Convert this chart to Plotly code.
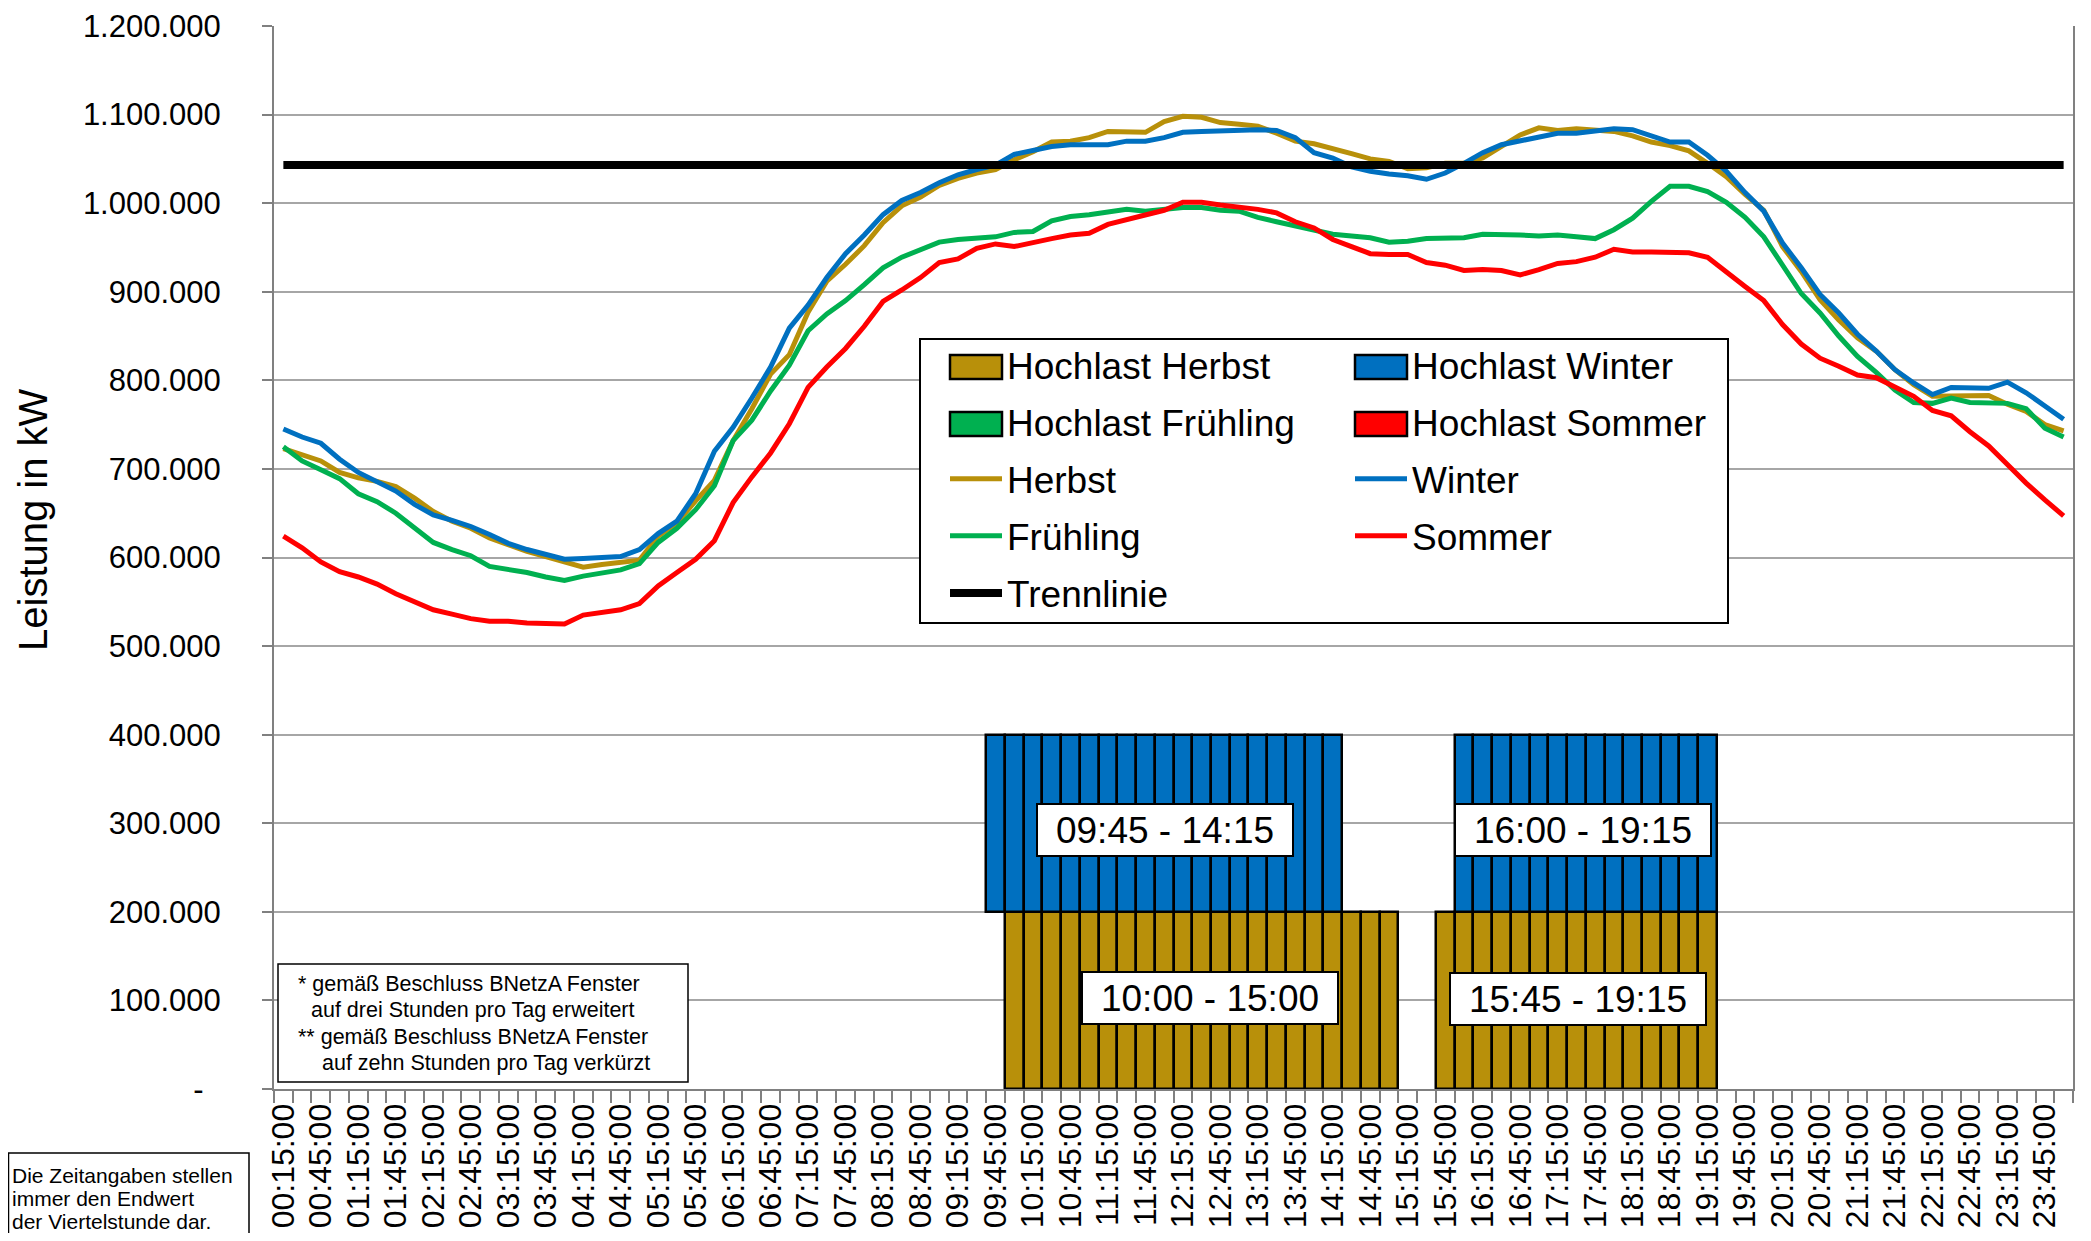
import plotly.graph_objects as go

# ---------------- data ----------------
zeit = [
    "00:15:00", "00:30:00", "00:45:00", "01:00:00",
    "01:15:00", "01:30:00", "01:45:00", "02:00:00",
    "02:15:00", "02:30:00", "02:45:00", "03:00:00",
    "03:15:00", "03:30:00", "03:45:00", "04:00:00",
    "04:15:00", "04:30:00", "04:45:00", "05:00:00",
    "05:15:00", "05:30:00", "05:45:00", "06:00:00",
    "06:15:00", "06:30:00", "06:45:00", "07:00:00",
    "07:15:00", "07:30:00", "07:45:00", "08:00:00",
    "08:15:00", "08:30:00", "08:45:00", "09:00:00",
    "09:15:00", "09:30:00", "09:45:00", "10:00:00",
    "10:15:00", "10:30:00", "10:45:00", "11:00:00",
    "11:15:00", "11:30:00", "11:45:00", "12:00:00",
    "12:15:00", "12:30:00", "12:45:00", "13:00:00",
    "13:15:00", "13:30:00", "13:45:00", "14:00:00",
    "14:15:00", "14:30:00", "14:45:00", "15:00:00",
    "15:15:00", "15:30:00", "15:45:00", "16:00:00",
    "16:15:00", "16:30:00", "16:45:00", "17:00:00",
    "17:15:00", "17:30:00", "17:45:00", "18:00:00",
    "18:15:00", "18:30:00", "18:45:00", "19:00:00",
    "19:15:00", "19:30:00", "19:45:00", "20:00:00",
    "20:15:00", "20:30:00", "20:45:00", "21:00:00",
    "21:15:00", "21:30:00", "21:45:00", "22:00:00",
    "22:15:00", "22:30:00", "22:45:00", "23:00:00",
    "23:15:00", "23:30:00", "23:45:00", "00:00:00",
]
# every second time is written on the axis
zeit_beschriftung = [z if i % 2 == 0 else "" for i, z in enumerate(zeit)]

herbst = [723, 716, 709, 696, 690, 686, 680, 667, 652, 641, 633, 622, 614, 607, 601, 595, 589, 592, 595, 597,
          624, 639, 664, 687, 732, 768, 807, 829, 877, 912, 931, 952, 978, 997, 1007, 1020, 1028, 1034, 1038, 1049,
          1058, 1069, 1070, 1074, 1081, 1081, 1080, 1092, 1098, 1097, 1091, 1089, 1087, 1079, 1070, 1067, 1062, 1056, 1050,
          1047, 1039, 1040, 1045, 1045, 1051, 1064, 1077, 1085, 1082, 1084, 1083, 1081, 1076, 1069, 1065, 1059, 1045, 1030, 1010,
          992, 951, 923, 891, 868, 848, 833, 812, 795, 782, 782, 783, 783, 773, 765, 750, 743]
winter = [745, 736, 729, 711, 696, 686, 675, 660, 648, 642, 635, 626, 616, 609, 604, 598, 599, 600, 601, 609,
          627, 641, 672, 720, 747, 780, 815, 859, 885, 916, 943, 964, 987, 1003, 1012, 1023, 1032, 1038, 1043, 1055,
          1060, 1064, 1066, 1066, 1066, 1070, 1070, 1074, 1080, 1081, 1082, 1083, 1083, 1082, 1074, 1057, 1051, 1041, 1036,
          1033, 1031, 1027, 1034, 1045, 1057, 1066, 1070, 1075, 1079, 1079, 1081, 1084, 1083, 1076, 1069, 1069, 1054, 1036, 1012,
          991, 955, 927, 897, 876, 852, 833, 812, 797, 784, 792, 792, 791, 798, 786, 771, 756]
fruehling = [725, 709, 699, 689, 672, 663, 650, 633, 617, 609, 602, 590, 587, 583, 578, 574, 579, 582, 586, 593,
             617, 633, 654, 681, 732, 755, 788, 817, 856, 875, 890, 908, 927, 939, 947, 956, 959, 960, 962, 967,
             968, 980, 985, 987, 990, 993, 991, 993, 995, 995, 992, 991, 984, 979, 974, 969, 965, 963, 961,
             956, 957, 960, 961, 961, 965, 965, 964, 963, 964, 962, 960, 970, 983, 1002, 1019, 1019, 1013, 1001, 984,
             962, 929, 898, 876, 850, 827, 809, 789, 775, 774, 780, 775, 775, 774, 768, 746, 736]
sommer = [624, 611, 595, 584, 578, 570, 559, 550, 541, 536, 531, 528, 528, 526, 525, 525, 535, 538, 541, 548,
          568, 583, 598, 619, 662, 691, 718, 751, 792, 815, 836, 861, 889, 902, 916, 933, 937, 949, 954, 951,
          956, 960, 964, 966, 976, 981, 986, 992, 1001, 1001, 998, 996, 993, 989, 979, 972, 959, 951, 943,
          942, 942, 933, 930, 924, 925, 924, 919, 925, 932, 934, 939, 948, 945, 945, 945, 944, 939, 922, 906,
          890, 863, 841, 825, 816, 806, 803, 793, 782, 766, 760, 742, 726, 705, 684, 665, 647]
trennlinie_kw = 1043000

# Hochlast-Zeitfenster (Endwerte der Viertelstunden)
hochlast_herbst_fenster = [("10:00:00", "15:00:00"), ("15:45:00", "19:15:00")]
hochlast_winter_fenster = [("09:45:00", "14:15:00"), ("16:00:00", "19:15:00")]
hochlast_fruehling_fenster = []
hochlast_sommer_fenster = []
hochlast_herbst_wert = 200000
hochlast_winter_wert = 200000
hochlast_winter_basis = 200000

fenster_texte = ["09:45 - 14:15", "16:00 - 19:15", "10:00 - 15:00", "15:45 - 19:15"]

y_werte = [0, 100000, 200000, 300000, 400000, 500000, 600000, 700000, 800000, 900000, 1000000, 1100000, 1200000]
y_beschriftung = ["-\u00a0\u00a0", "100.000", "200.000", "300.000", "400.000", "500.000", "600.000",
                  "700.000", "800.000", "900.000", "1.000.000", "1.100.000", "1.200.000"]


def fenster_reihe(fenster, wert):
    out = [None] * len(zeit)
    for a, b in fenster:
        ia, ib = zeit.index(a), zeit.index(b)
        for i in range(ia, ib + 1):
            out[i] = wert
    return out


def kw(arr):
    return [v * 1000 for v in arr]


# ---------------- style ----------------
GOLD = "#B8900A"
BLAU = "#0070C0"
GRUEN = "#00B050"
ROT = "#FF0000"
FONT = "Liberation Sans, Arial, sans-serif"

# the page adds an 8px body margin; the figure is sized so that it fills the window
OFF = 8
W, H = 2091 - 2 * OFF, 1241 - 2 * OFF
L, T = 266, 18
PW, PH = 1799, 1063
R, B = W - L - PW, H - T - PH

PLOT_LEFT_PAGE = OFF + L
PLOT_BOTTOM_PAGE = OFF + T + PH


def px(x):  # page pixel -> paper x
    return (x - PLOT_LEFT_PAGE) / PW


def py(y):  # page pixel -> paper y
    return (PLOT_BOTTOM_PAGE - y) / PH


fig = go.Figure()

bar_line = dict(color="black", width=2.5)
hl_traces = [
    ("Hochlast Herbst", GOLD, fenster_reihe(hochlast_herbst_fenster, hochlast_herbst_wert), None, "legend", "a1"),
    ("Hochlast Winter", BLAU, fenster_reihe(hochlast_winter_fenster, hochlast_winter_wert), hochlast_winter_basis, "legend2", "b1"),
    ("Hochlast Frühling", GRUEN, fenster_reihe(hochlast_fruehling_fenster, hochlast_herbst_wert), None, "legend", "a2"),
    ("Hochlast Sommer", ROT, fenster_reihe(hochlast_sommer_fenster, hochlast_herbst_wert), None, "legend2", "b2"),
]
for name, col, vals, base, leg, grp in hl_traces:
    fig.add_trace(go.Bar(x=zeit, y=vals, base=base, name=name,
                         marker=dict(color=col, line=bar_line),
                         showlegend=False, legendgroup=grp))
# legend entries of the Hochlast bars (swatch drawn as frame-rectangle below)
for name, col, vals, base, leg, grp in hl_traces:
    fig.add_trace(go.Scatter(x=[None], y=[None], mode="lines", name=name,
                             line=dict(color="rgba(0,0,0,0)", width=1),
                             legend=leg, legendgroup=grp, hoverinfo="skip"))

lw = 5
fig.add_trace(go.Scatter(x=zeit, y=kw(herbst), mode="lines", name="Herbst",
                         line=dict(color=GOLD, width=lw), legend="legend", legendgroup="a3"))
fig.add_trace(go.Scatter(x=zeit, y=kw(winter), mode="lines", name="Winter",
                         line=dict(color=BLAU, width=lw), legend="legend2", legendgroup="b3"))
fig.add_trace(go.Scatter(x=zeit, y=kw(fruehling), mode="lines", name="Frühling",
                         line=dict(color=GRUEN, width=lw), legend="legend", legendgroup="a4"))
fig.add_trace(go.Scatter(x=zeit, y=kw(sommer), mode="lines", name="Sommer",
                         line=dict(color=ROT, width=lw), legend="legend2", legendgroup="b4"))
fig.add_trace(go.Scatter(x=zeit, y=[trennlinie_kw] * len(zeit), mode="lines", name="Trennlinie",
                         line=dict(color="black", width=8), legend="legend", legendgroup="a5"))

ITEMW = 52
leg_common = dict(font=dict(size=37, family=FONT, color="black"), bgcolor="rgba(0,0,0,0)",
                  borderwidth=0, itemwidth=ITEMW, tracegroupgap=6, yanchor="top", xanchor="left")
LEG1_X, LEG2_X, LEG_TOP = 945, 1350, 334
ROW1, ROW2 = 367, 424

shapes = [
    # legend frame
    dict(type="rect", xref="paper", yref="paper", x0=px(920), x1=px(1728), y0=py(623), y1=py(339),
         fillcolor="white", line=dict(color="black", width=2), layer="above"),
    # footnote frame
    dict(type="rect", xref="paper", yref="paper", x0=px(278), x1=px(688), y0=py(1082), y1=py(964),
         fillcolor="white", line=dict(color="black", width=1.5), layer="above"),
    # bottom-left note frame
    dict(type="rect", xref="paper", yref="paper", x0=px(OFF + 0.5), x1=px(249), y0=py(1260), y1=py(1153),
         fillcolor="white", line=dict(color="black", width=1.5), layer="above"),
]
# bar swatches of the legend
for lx, row, col in [(LEG1_X, ROW1, GOLD), (LEG1_X, ROW2, GRUEN), (LEG2_X, ROW1, BLAU), (LEG2_X, ROW2, ROT)]:
    shapes.append(dict(type="rect", xref="paper", yref="paper",
                       x0=px(lx + 5), x1=px(lx + 5 + ITEMW), y0=py(row + 12), y1=py(row - 12),
                       fillcolor=col, line=dict(color="black", width=2.5), layer="above"))

annotations = []
# time window labels
box_pos = [(47.05, 292000), (69.35, 292500), (49.45, 103000), (69.1, 102000)]
for txt, (xx, yy) in zip(fenster_texte, box_pos):
    annotations.append(dict(x=xx, y=yy, xref="x", yref="y", text=txt, showarrow=False,
                            font=dict(size=37, family=FONT, color="black"),
                            bgcolor="white", bordercolor="black", borderwidth=2, borderpad=1,
                            width=252, height=48, xanchor="center", yanchor="middle"))

# y axis title
annotations.append(dict(x=px(OFF + 1), y=py(520), xref="paper", yref="paper", text="Leistung in kW",
                        textangle=-90, showarrow=False, font=dict(size=40, family=FONT, color="black"),
                        xanchor="left", yanchor="middle"))

fuss_zeilen = [("* gemäß Beschluss BNetzA Fenster", 296, 984),
               ("auf drei Stunden pro Tag erweitert", 309, 1010),
               ("** gemäß Beschluss BNetzA Fenster", 296, 1037),
               ("auf zehn Stunden pro Tag verkürzt", 320, 1063)]
for txt, xx, yy in fuss_zeilen:
    annotations.append(dict(x=px(xx), y=py(yy), xref="paper", yref="paper", text=txt, showarrow=False,
                            font=dict(size=21.5, family=FONT, color="black"), xanchor="left", yanchor="middle"))

hinweis_zeilen = [("Die Zeitangaben stellen", 10, 1175),
                  ("immer den Endwert", 10, 1198),
                  ("der Viertelstunde dar.", 10, 1221)]
for txt, xx, yy in hinweis_zeilen:
    annotations.append(dict(x=px(xx), y=py(yy), xref="paper", yref="paper", text=txt, showarrow=False,
                            font=dict(size=21, family=FONT, color="black"), xanchor="left", yanchor="middle"))

fig.update_layout(
    width=W, height=H,
    margin=dict(l=L, r=R, t=T, b=B, pad=0, autoexpand=False),
    paper_bgcolor="white", plot_bgcolor="white",
    barmode="overlay", bargap=0,
    font=dict(family=FONT, color="black"),
    legend=dict(x=px(LEG1_X), y=py(LEG_TOP), **leg_common),
    legend2=dict(x=px(LEG2_X), y=py(LEG_TOP), **leg_common),
    shapes=shapes,
    annotations=annotations,
    xaxis=dict(type="category", categoryorder="array", categoryarray=zeit,
               range=[-0.5, len(zeit) - 0.5], automargin=False,
               tickmode="array", tickvals=zeit, ticktext=zeit_beschriftung,
               tickangle=-90, tickfont=dict(size=32, family=FONT, color="black"),
               ticks="outside", tickson="boundaries", ticklen=12, tickwidth=1.5, tickcolor="#808080",
               showgrid=False, showline=True, linecolor="#808080", linewidth=2, zeroline=False),
    yaxis=dict(range=[0, 1200000], automargin=False, tickmode="array", tickvals=y_werte, ticktext=y_beschriftung,
               tickfont=dict(size=31, family=FONT, color="black"), ticklabeloverflow="allow",
               ticks="outside", ticklen=10, tickwidth=1.5, tickcolor="#808080", ticklabelstandoff=35,
               showgrid=True, gridcolor="#A6A6A6", gridwidth=2,
               showline=True, linecolor="#808080", linewidth=2, mirror=True, zeroline=False),
)

fig.write_html("out.html")
